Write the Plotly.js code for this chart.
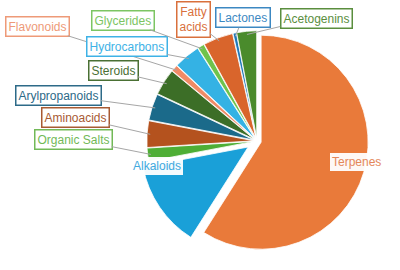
<!DOCTYPE html>
<html>
<head>
<meta charset="utf-8">
<script src="https://cdn.plot.ly/plotly-3.0.1.min.js"></script>
<style>html,body{margin:0;padding:0;background:#fff}#chart{width:400px;height:270px}</style>
</head>
<body>
<div id="chart"></div>
<script>
const categories = ["Terpenes","Alkaloids","Organic Salts","Aminoacids","Arylpropanoids","Steroids","Flavonoids","Hydrocarbons","Glycerides","Fatty acids","Lactones","Acetogenins"];
const values = [59, 13, 2, 4, 4, 4, 1, 4, 1, 4.5, 0.5, 3];
const sliceColors = ["#E97A3A","#1AA0D8","#4EAE35","#B4521E","#1B6A8A","#3C6E27","#F08B66","#34B2E4","#6FC34C","#D9652C","#1F78B8","#4A8B2C"];
const labelColors = ["#E4875A","#3FA9DE","#72B957","#A85A32","#2D6A88","#4A7034","#EE9A78","#3EB2E6","#7CC563","#D9703C","#3C88C2","#5A8E3E"];
const labelText = ["Terpenes","Alkaloids","Organic Salts","Aminoacids","Arylpropanoids","Steroids","Flavonoids","Hydrocarbons","Glycerides","Fatty<br>acids","Lactones","Acetogenins"];
const pulls = [0.04, 0.1, 0.03, 0.03, 0.03, 0.03, 0.03, 0.03, 0.03, 0.03, 0.03, 0.03];
// label box centres in pixels
const labelPos = [[356,162],[157,166],[73,139],[75,117],[58,95],[113,71],[37,26],[127,47],[123,20],[193,20],[243,18],[316,18]];
const inside = [true,true,false,false,false,false,false,false,false,false,false,false];

const W = 400, H = 270;
const cx = 257, cy = 141, R = 107;
const maxPull = Math.max(...pulls);
const half = R * (1 + maxPull);
const domain = {x:[(cx-half)/W,(cx+half)/W], y:[(H-cy-half)/H,(H-cy+half)/H]};

const total = values.reduce((a,b)=>a+b,0);
let cum = 0;
const annotations = [];
values.forEach((v,i)=>{
  const mid = (cum + v/2)/total*2*Math.PI;
  cum += v;
  const [tx,ty] = labelPos[i];
  const base = {text:labelText[i], font:{family:"Liberation Sans, Arial, sans-serif", size:12, color:labelColors[i]},
    bgcolor:"rgba(255,255,255,0.95)", borderpad:2, xanchor:"center", yanchor:"middle"};
  if (inside[i]) {
    annotations.push(Object.assign(base,{x:tx/W, y:1-ty/H, xref:"paper", yref:"paper", showarrow:false, bordercolor:"rgba(0,0,0,0)", borderwidth:0}));
  } else {
    const r = R*(0.97 + pulls[i]);
    const px = cx + r*Math.sin(mid), py = cy - r*Math.cos(mid);
    annotations.push(Object.assign(base,{x:px/W, y:1-py/H, xref:"paper", yref:"paper", showarrow:true, arrowhead:0, arrowwidth:1, arrowcolor:"#a6a6a6",
      ax:tx-px, ay:ty-py, bordercolor:labelColors[i], borderwidth:1.5, standoff:0}));
  }
});

const data = [{type:"pie", labels:categories, values:values, sort:false, direction:"clockwise", rotation:0,
  marker:{colors:sliceColors, line:{color:"#ffffff", width:0.8}}, pull:pulls, textinfo:"none", hoverinfo:"label+value",
  domain:domain, showlegend:false}];
const layout = {width:W, height:H, margin:{l:0,r:0,t:0,b:0}, paper_bgcolor:"#fff", showlegend:false, annotations:annotations};
Plotly.newPlot("chart", data, layout, {displayModeBar:false, staticPlot:true});
</script>
</body>
</html>
